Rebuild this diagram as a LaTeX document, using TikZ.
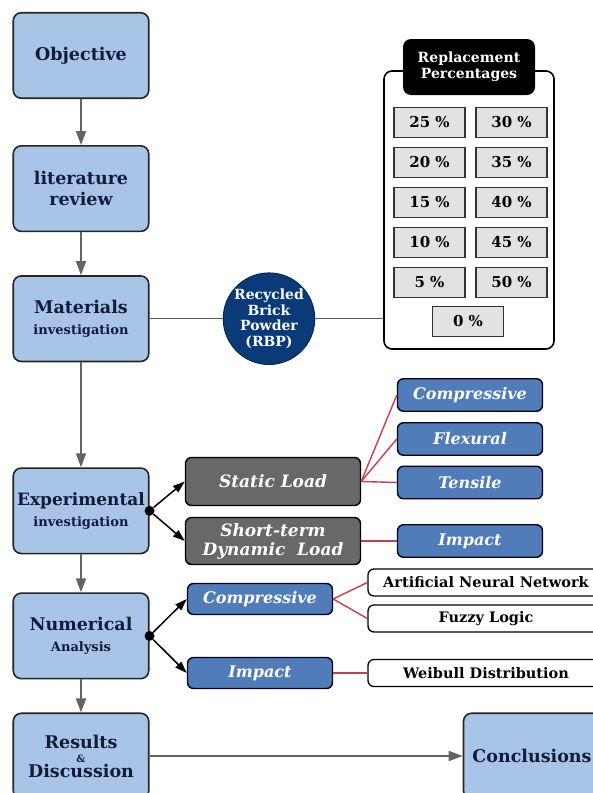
\documentclass[tikz,border=0pt]{standalone}
\usepackage{fontspec}
\setmainfont{DejaVu Serif}
\usetikzlibrary{arrows.meta,positioning}

\definecolor{stepblue}{RGB}{168,196,230}
\definecolor{navytext}{RGB}{16,28,58}
\definecolor{loadgray}{RGB}{104,104,104}
\definecolor{testblue}{RGB}{80,125,185}
\definecolor{rbpblue}{RGB}{10,58,120}
\definecolor{pctgray}{RGB}{226,226,226}
\definecolor{linkred}{RGB}{205,60,75}
\definecolor{flowgray}{RGB}{100,100,100}

\begin{document}
\begin{tikzpicture}[
    x=1pt, y=-1pt,
    node distance=46pt,
    stage/.style={draw=black!85, line width=1.6pt, rounded corners=8pt, fill=stepblue, minimum width=135.5pt, minimum height=85.5pt, inner sep=2pt, align=center, text=navytext, font=\bfseries\fontsize{17.5}{21}\selectfont},
    loadbox/.style={draw=black, line width=1.4pt, rounded corners=6pt, fill=loadgray, minimum width=175pt, inner sep=2pt, align=center, text=white, font=\bfseries\itshape\fontsize{17}{19}\selectfont},
    testbox/.style={draw=black!90!blue, line width=1.4pt, rounded corners=6pt, fill=testblue, minimum width=145pt, minimum height=32.5pt, inner sep=2pt, text=white, font=\bfseries\itshape\fontsize{16}{18}\selectfont},
    methodbox/.style={draw=black, line width=1.3pt, rounded corners=6pt, fill=white, minimum width=236pt, minimum height=27pt, inner sep=2pt, font=\bfseries\fontsize{14.5}{16}\selectfont},
    pct/.style={draw=black!80, line width=1.3pt, fill=pctgray, minimum width=71pt, minimum height=30pt, inner sep=1pt, font=\bfseries\fontsize{15}{17}\selectfont},
    panel/.style={draw=black, line width=1.6pt, rounded corners=8pt, fill=white, minimum width=170pt, minimum height=278pt},
    header/.style={fill=black, rounded corners=8pt, minimum width=132pt, minimum height=56pt, inner sep=1pt, align=center, text=white, font=\bfseries\fontsize{14}{16}\selectfont},
    rbp/.style={circle, draw=rbpblue!70!black, line width=1pt, fill=rbpblue, minimum size=91pt, inner sep=0pt, align=center, text=white, font=\bfseries\fontsize{14}{15.5}\selectfont},
    hub/.style={circle, fill=black, inner sep=0pt, minimum size=10pt},
    flow/.style={-{Triangle[length=14pt,width=10pt]}, draw=flowgray, line width=1.8pt},
    fork/.style={-{Triangle[length=12pt,width=8pt]}, draw=black, line width=1.5pt},
    link/.style={draw=linkred, line width=1.4pt},
    joint/.style={draw=black!65, line width=1.3pt}
]
\useasboundingbox (0,0) rectangle (593,793);
\clip (0,0) rectangle (593,793);
\fill[white] (0,0) rectangle (593,793);

% Main column
\node[stage] (objective) at (81,55.5) {Objective};
\node[stage, below=of objective] (literature) {literature\\review};
\node[stage, below=43pt of literature] (materials) {Materials\\{\fontsize{13}{15}\selectfont investigation}};
\node[stage, below=105pt of materials] (experimental) {{\fontsize{17}{21}\selectfont Experimental}\\{\fontsize{13}{15}\selectfont investigation}};
\node[stage, below=38pt of experimental] (numerical) {Numerical\\{\fontsize{13}{15}\selectfont Analysis}};
\node[stage, below=33pt of numerical] (results) {Results\\[-7pt]{\fontsize{10}{10}\selectfont\&}\\[-6pt]Discussion};
\node[stage, minimum width=137pt] (conclusions) at (results -| 532,0) {Conclusions};

% Material and replacement levels
\node[rbp] (brick) at (materials -| 269,0) {Recycled\\Brick\\Powder\\(RBP)};
\node[panel] (levels) at (469,210) {};
\node[header] (levelhead) at (469,67) {Replacement\\Percentages};
\foreach \l/\r [count=\i] in {25/30,20/35,15/40,10/45,5/50} {
  \node[pct] (pl\i) at (429.5,82.5+40*\i) {\l~\%};
  \node[pct] (pr\i) at (511.5,82.5+40*\i) {\r~\%};
}
\node[pct] (pzero) at (468,321.5) {0~\%};

% Experimental branch
\node[loadbox, minimum height=48pt] (static) at (273,481.5) {Static Load};
\node[loadbox, minimum height=47pt] (dynamic) at (273,541) {Short-term\\Dynamic~ Load};
\node[testbox] (compressive) at (470,395) {Compressive};
\node[testbox] (flexural) at (470,439) {Flexural};
\node[testbox] (tensile) at (470,482.5) {Tensile};
\node[testbox] (impact) at (470,541) {Impact};

% Numerical branch
\node[testbox, minimum height=31pt] (numcomp) at (260,599) {Compressive};
\node[testbox, minimum height=31pt] (numimpact) at (260,673) {Impact};
\node[methodbox] (ann) at (486,582.5) {Artificial Neural Network};
\node[methodbox] (fuzzy) at (486,618.5) {Fuzzy Logic};
\node[methodbox] (weibull) at (486,673) {Weibull Distribution};

% Arrows
\draw[flow] (objective) -- (literature);
\draw[flow] (literature) -- (materials);
\draw[flow] (materials) -- (experimental);
\draw[flow] (experimental) -- (numerical);
\draw[flow] (numerical) -- (results);
\draw[flow] (results) -- (conclusions);
\draw[joint] (materials) -- (brick);
\draw[joint] (brick.east) -- (brick.east -| levels.west);

\node[hub] (exphub) at (experimental.east) {};
\draw[fork] (exphub) -- (static.west);
\draw[fork] (exphub) -- (dynamic.west);
\node[hub] (numhub) at (numerical.east) {};
\draw[fork] (numhub) -- (numcomp.west);
\draw[fork] (numhub) -- (numimpact.west);

\draw[link] (static.east) -- (compressive.west);
\draw[link] (static.east) -- (flexural.west);
\draw[link] (static.east) -- (tensile.west);
\draw[link] (dynamic.east) -- (impact.west);
\draw[link] (numcomp.east) -- (ann.west);
\draw[link] (numcomp.east) -- (fuzzy.west);
\draw[link] (numimpact.east) -- (weibull.west);

\end{tikzpicture}
\end{document}
